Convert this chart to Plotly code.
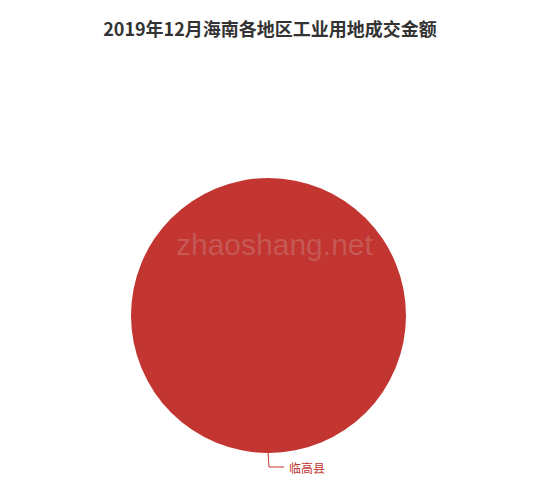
import plotly.graph_objs as go

# 数据
regions = ['临高县']
amounts = [1]
slice_colors = ['#c23531']

# 页面 body 自带 8px 边距，图形尺寸和坐标都减去
OFF = 8
W, H = 550 - 2 * OFF, 490 - 2 * OFF


def px(x):
    return (x - OFF) / W


def py(y):
    return (H - (y - OFF)) / H


fig = go.Figure()
fig.add_trace(go.Pie(labels=regions, values=amounts, marker=dict(colors=slice_colors, line=dict(width=0)),
                     textinfo='none', hoverinfo='label+value', sort=False, showlegend=False,
                     domain=dict(x=[px(131), px(406)], y=[py(453), py(178)])))

# 标签引导线
fig.add_shape(type='path', xref='paper', yref='paper',
              path=f'M {px(268)} {py(452)} L {px(269)} {py(467)} L {px(284)} {py(467)}',
              line=dict(color='#c23531', width=1))
fig.add_annotation(x=px(287), y=py(467), xref='paper', yref='paper', text=regions[0],
                   showarrow=False, xanchor='left', yanchor='middle',
                   font=dict(size=12, color='#c23531', family='Noto Sans CJK SC'))

# 水印
fig.add_annotation(x=px(274), y=py(244), xref='paper', yref='paper', text='zhaoshang.net',
                   showarrow=False, font=dict(size=30, color='rgba(215,215,215,0.22)',
                                              family='Liberation Sans, Arial'))

fig.update_layout(width=W, height=H, margin=dict(l=0, r=0, t=0, b=0),
                  paper_bgcolor='white', plot_bgcolor='white',
                  title=dict(text='<b>2019年12月海南各地区工业用地成交金额</b>', x=px(270), xanchor='center',
                             y=py(30), yanchor='middle',
                             font=dict(size=18, color='#333333', family='Noto Sans CJK SC')))

fig.write_html('out.html')
